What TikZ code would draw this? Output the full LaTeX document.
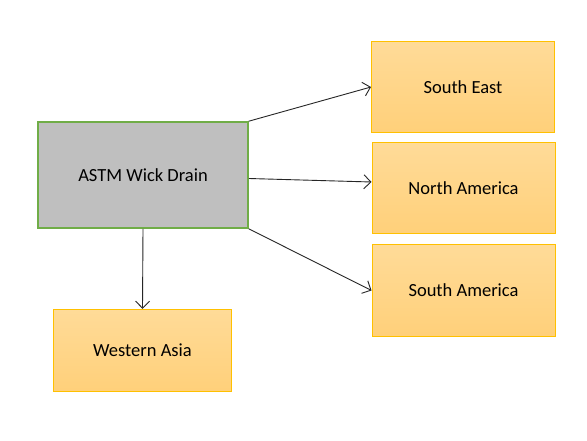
\documentclass[tikz,border=0pt]{standalone}
\usepackage{fontspec}
\setmainfont{Carlito}
\usetikzlibrary{arrows.meta}
\definecolor{goldline}{HTML}{FFC000}
\definecolor{goldtop}{HTML}{FFDB98}
\definecolor{goldbot}{HTML}{FFD07A}
\definecolor{greenline}{HTML}{70AD47}
\definecolor{grayfill}{HTML}{BFBFBF}
\tikzset{
  mainbox/.style={draw=greenline, line width=1.6pt, fill=grayfill, minimum width=210pt, minimum height=106pt, inner sep=0pt, font=\fontsize{18.5}{22}\selectfont},
  regionbox/.style={draw=goldline, line width=1pt, top color=goldtop, bottom color=goldbot, minimum width=183pt, minimum height=91pt, inner sep=0pt, font=\fontsize{18.5}{22}\selectfont},
  conn/.style={draw=black!85, line width=0.9pt, -{Straight Barb[length=7pt, width=14pt, line width=0.9pt]}}
}
\begin{document}
\begin{tikzpicture}[x=1pt, y=-1pt]
\fill[white] (0,0) rectangle (587,441);
\useasboundingbox (0,0) rectangle (587,441);
\node[mainbox] (main) at (143,175) {ASTM Wick Drain};
\node[regionbox] (se) at (463,87) {South East};
\node[regionbox] (na) at (463.5,188) {North America};
\node[regionbox] (sa) at (463.5,290.5) {South America};
\node[regionbox, minimum width=178pt, minimum height=82pt] (wa) at (142.5,350.3) {Western Asia};
\draw[conn] (main.north east) -- (se.west);
\draw[conn] ([yshift=-3.5pt]main.east) -- ([yshift=6pt]na.west);
\draw[conn] (main.south east) -- (sa.west);
\draw[conn] (main.south) -- (wa.north);
\end{tikzpicture}
\end{document}
